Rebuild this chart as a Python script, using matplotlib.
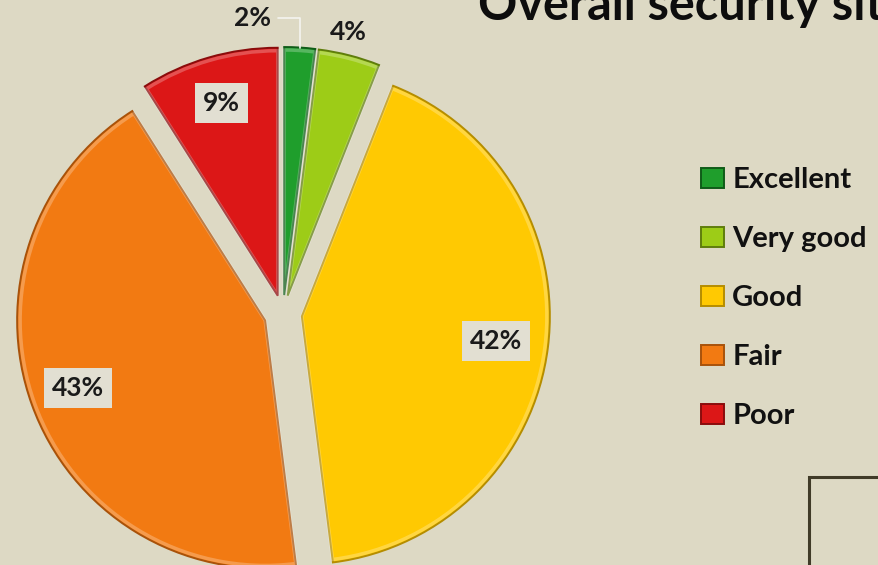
import matplotlib
matplotlib.use("Agg")
import numpy as np
import matplotlib.pyplot as plt
from matplotlib.patches import Rectangle, Wedge

# Survey answers: overall security situation
categories = ["Excellent", "Very good", "Good", "Fair", "Poor"]
shares = [2, 4, 42, 43, 9]
pct_labels = ["2%", "4%", "42%", "43%", "9%"]

colors = ["#1f9e2c", "#9dcc17", "#ffc902", "#f27a12", "#dc1717"]
edges = ["#0f5c18", "#5f7d0c", "#b58d00", "#a8520a", "#8a0c0c"]
bg = "#ddd9c4"

W, H = 879, 565
fig = plt.figure(figsize=(W / 100, H / 100), dpi=100, facecolor=bg)
ax = fig.add_axes([0, 0, 1, 1])
ax.set_facecolor(bg)

cx, cy, r = 283, H - 314, 248
offset = 19  # explosion distance of every slice, in axis units

wedges, _ = ax.pie(
    shares, colors=colors, startangle=90, counterclock=False,
    center=(cx, cy), radius=r, explode=[offset] * len(shares),
    wedgeprops=dict(linewidth=1.4),
)
for w, ec, fc in zip(wedges, edges, colors):
    w.set_edgecolor(ec)
    # soft inner rim that gives the slices a bevelled look
    ax.add_patch(Wedge(w.center, w.r - 3, w.theta1, w.theta2, width=w.r - 3,
                       facecolor="none", edgecolor="white", alpha=0.25,
                       linewidth=2.5, zorder=w.get_zorder() + 0.1))

ax.set_xlim(0, W)
ax.set_ylim(0, H)
ax.set_aspect("equal")
ax.axis("off")

font = ["Lato", "DejaVu Sans"]
box = dict(boxstyle="square,pad=0.3", facecolor="#e2dfd2", edgecolor="none")

# labels inside the three large slices
inside = {2: 0.79, 3: 0.80, 4: 0.81}
for i, dist in inside.items():
    w = wedges[i]
    mid = np.deg2rad((w.theta1 + w.theta2) / 2)
    x0, y0 = w.center
    ax.text(x0 + dist * r * np.cos(mid), y0 + dist * r * np.sin(mid),
            pct_labels[i], ha="center", va="center", fontsize=19,
            fontweight="bold", color="#1a1a1a", family=font, bbox=box,
            zorder=5)

# small slices: labels outside
ax.text(348, H - 32, pct_labels[1], ha="center", va="center", fontsize=19,
        fontweight="bold", color="#1a1a1a", family=font)

w = wedges[0]
mid = np.deg2rad((w.theta1 + w.theta2) / 2)
x0, y0 = w.center
tip = (x0 + r * np.cos(mid), y0 + r * np.sin(mid))
ax.annotate(pct_labels[0], xy=tip, xytext=(253, H - 18),
            ha="center", va="center", fontsize=19, fontweight="bold",
            color="#1a1a1a", family=font,
            arrowprops=dict(arrowstyle="-", color="#f4f4f0", lw=1.2,
                            connectionstyle="angle,angleA=0,angleB=90,rad=0",
                            shrinkA=3, shrinkB=0))

# title (runs past the right edge of the panel)
ax.text(478, H - 20, "Overall security situation", ha="left", va="baseline",
        fontsize=35, fontweight="bold", color="#0d0d0d", family=font,
        clip_on=False)

# legend
leg = ax.legend(wedges, categories, loc="center left",
                bbox_to_anchor=(675 / W, 1 - 298 / H), frameon=False,
                prop=dict(family=font, weight="bold", size=21),
                labelspacing=1.13, handlelength=0.78, handleheight=0.68,
                handletextpad=0.28, labelcolor="#111111")

# frame of the neighbouring panel at the lower right
ax.add_patch(Rectangle((809, -20), 200, H - 477 + 20, fill=False,
                       edgecolor="#403b28", linewidth=2.2))

fig.savefig("out.png", dpi=100, facecolor=bg)
